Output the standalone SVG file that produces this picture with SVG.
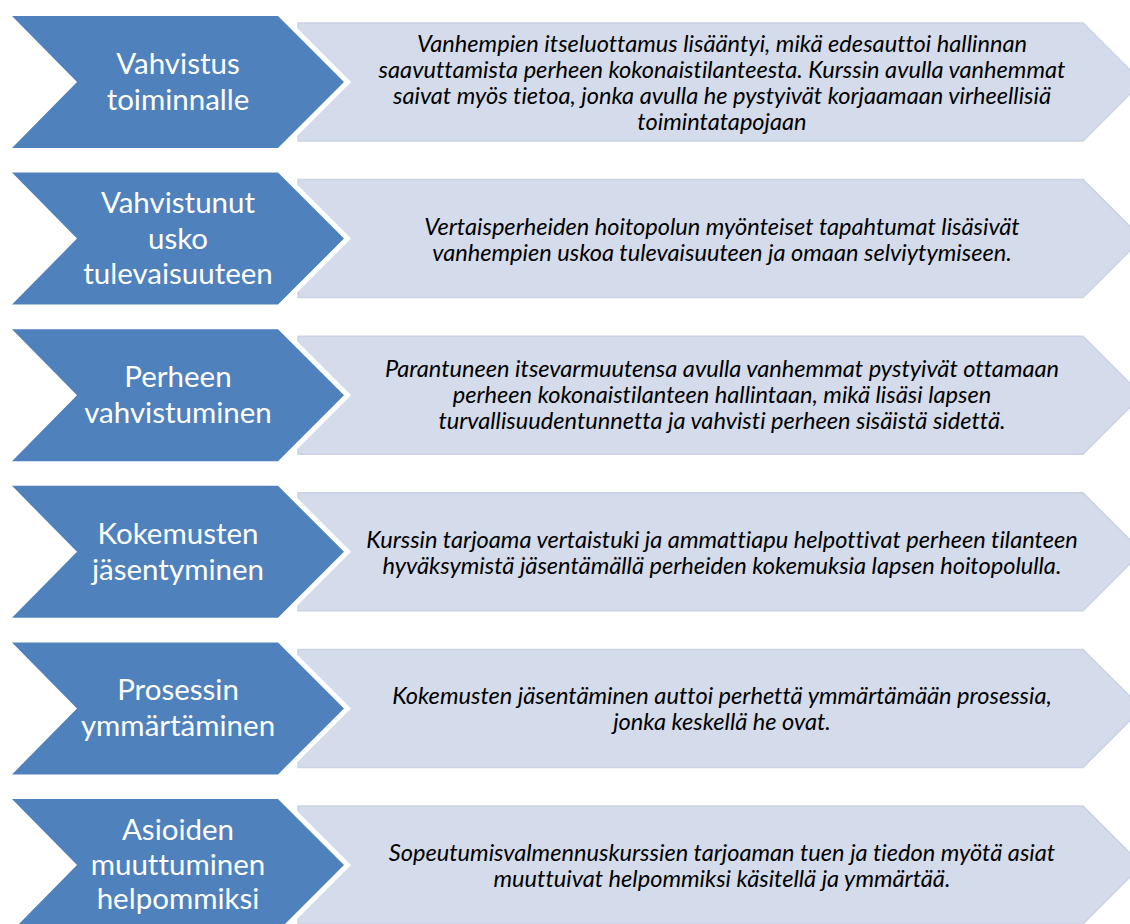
<svg xmlns="http://www.w3.org/2000/svg" width="1130" height="924" viewBox="0 0 1130 924">
<style>
.chev{fill:#4F81BD;stroke:#FFFFFF;stroke-width:10;stroke-linejoin:miter;paint-order:stroke fill}
.box{fill:#D4DBEA;stroke:#CAD2E4;stroke-width:1.5}
.ct{font-family:Lato,"Liberation Sans",sans-serif;font-size:29.5px;fill:#FFFFFF;text-anchor:middle;font-variant-ligatures:none}
.bt{font-family:Lato,"Liberation Sans",sans-serif;font-style:italic;font-size:23.6px;fill:#000000;text-anchor:middle;font-variant-ligatures:none}
</style>
<defs>
<polygon id="boxShape" class="box" points="298,7 1083,7 1142,66 1083,125 298,125"/>
<polygon id="chevShape" class="chev" points="12,0 278,0 344,66 278,132 12,132 77,66"/>
</defs>
<rect width="1130" height="924" fill="#FFFFFF"/>

<g id="row1" transform="translate(0,16)">
<use href="#boxShape"/>
<use href="#chevShape"/>
<text class="ct" x="178" y="58">Vahvistus</text>
<text class="ct" x="178" y="94">toiminnalle</text>
<text class="bt" x="722" y="36">Vanhempien itseluottamus lisääntyi, mikä edesauttoi hallinnan</text>
<text class="bt" x="722" y="62">saavuttamista perheen kokonaistilanteesta. Kurssin avulla vanhemmat</text>
<text class="bt" x="722" y="88">saivat myös tietoa, jonka avulla he pystyivät korjaamaan virheellisiä</text>
<text class="bt" x="722" y="114">toimintatapojaan</text>
</g>

<g id="row2" transform="translate(0,172.6)">
<use href="#boxShape"/>
<use href="#chevShape"/>
<text class="ct" x="178" y="40">Vahvistunut</text>
<text class="ct" x="178" y="76">usko</text>
<text class="ct" x="178" y="111">tulevaisuuteen</text>
<text class="bt" x="722" y="62">Vertaisperheiden hoitopolun myönteiset tapahtumat lisäsivät</text>
<text class="bt" x="722" y="88">vanhempien uskoa tulevaisuuteen ja omaan selviytymiseen.</text>
</g>

<g id="row3" transform="translate(0,329.2)">
<use href="#boxShape"/>
<use href="#chevShape"/>
<text class="ct" x="178" y="58">Perheen</text>
<text class="ct" x="178" y="94">vahvistuminen</text>
<text class="bt" x="722" y="48">Parantuneen itsevarmuutensa avulla vanhemmat pystyivät ottamaan</text>
<text class="bt" x="722" y="74">perheen kokonaistilanteen hallintaan, mikä lisäsi lapsen</text>
<text class="bt" x="722" y="100">turvallisuudentunnetta ja vahvisti perheen sisäistä sidettä.</text>
</g>

<g id="row4" transform="translate(0,485.8)">
<use href="#boxShape"/>
<use href="#chevShape"/>
<text class="ct" x="178" y="58">Kokemusten</text>
<text class="ct" x="178" y="94">jäsentyminen</text>
<text class="bt" x="722" y="62">Kurssin tarjoama vertaistuki ja ammattiapu helpottivat perheen tilanteen</text>
<text class="bt" x="722" y="88">hyväksymistä jäsentämällä perheiden kokemuksia lapsen hoitopolulla.</text>
</g>

<g id="row5" transform="translate(0,642.4)">
<use href="#boxShape"/>
<use href="#chevShape"/>
<text class="ct" x="178" y="58">Prosessin</text>
<text class="ct" x="178" y="94">ymmärtäminen</text>
<text class="bt" x="722" y="62">Kokemusten jäsentäminen auttoi perhettä ymmärtämään prosessia,</text>
<text class="bt" x="722" y="88">jonka keskellä he ovat.</text>
</g>

<g id="row6" transform="translate(0,799)">
<use href="#boxShape"/>
<use href="#chevShape"/>
<text class="ct" x="178" y="41">Asioiden</text>
<text class="ct" x="178" y="76">muuttuminen</text>
<text class="ct" x="178" y="110">helpommiksi</text>
<text class="bt" x="722" y="62">Sopeutumisvalmennuskurssien tarjoaman tuen ja tiedon myötä asiat</text>
<text class="bt" x="722" y="88">muuttuivat helpommiksi käsitellä ja ymmärtää.</text>
</g>
</svg>
